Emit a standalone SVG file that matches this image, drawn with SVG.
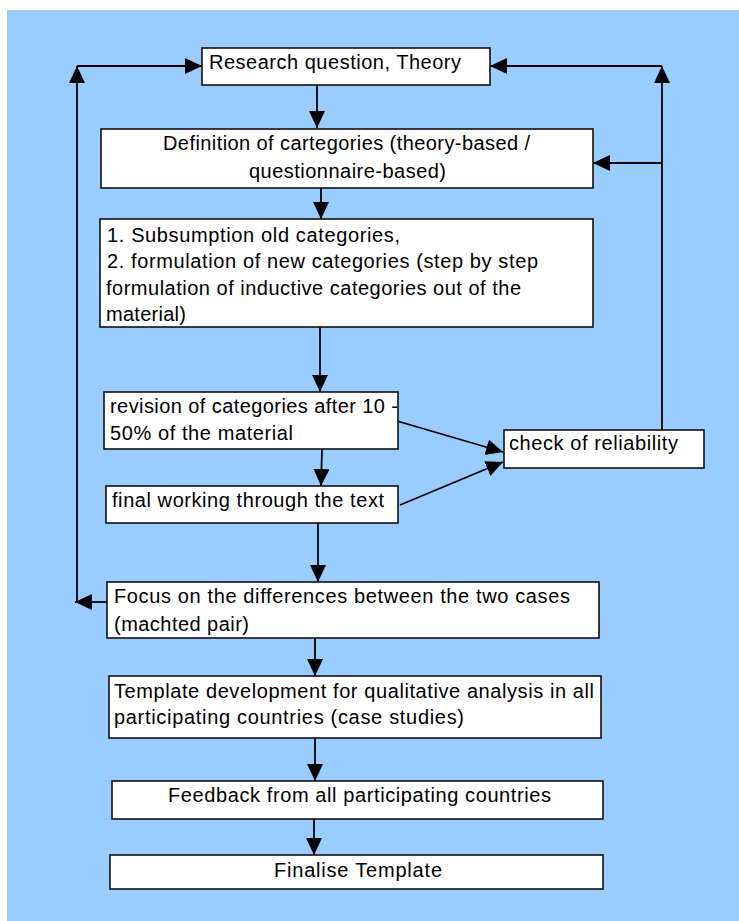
<svg xmlns="http://www.w3.org/2000/svg" width="739" height="921" viewBox="0 0 739 921">
<defs>
<style>
.box{fill:#fff;stroke:#111;stroke-width:1.6}
.t{font-family:"Liberation Sans",Arial,sans-serif;font-size:20px;fill:#000}
.c{fill:none;stroke:#000;stroke-width:1.8}
</style>
<marker id="ah" markerUnits="userSpaceOnUse" markerWidth="18" markerHeight="17" refX="17" refY="8" orient="auto" viewBox="0 0 18 17">
<path d="M0,0 L17,8 L0,16 Z" fill="#000"/>
</marker>
</defs>
<rect x="7" y="10" width="732" height="911" fill="#99CCFF"/>
<g id="connectors">
<line class="c" x1="317" y1="86" x2="317" y2="128" marker-end="url(#ah)"/>
<line class="c" x1="321" y1="188" x2="321" y2="219" marker-end="url(#ah)"/>
<line class="c" x1="320" y1="327" x2="320" y2="392" marker-end="url(#ah)"/>
<line class="c" x1="322" y1="449" x2="321" y2="486" marker-end="url(#ah)"/>
<line class="c" x1="318" y1="523" x2="318" y2="582" marker-end="url(#ah)"/>
<line class="c" x1="315" y1="638" x2="315" y2="676" marker-end="url(#ah)"/>
<line class="c" x1="315" y1="738" x2="315" y2="781" marker-end="url(#ah)"/>
<line class="c" x1="314" y1="819" x2="314" y2="855" marker-end="url(#ah)"/>
<line class="c" x1="397" y1="421" x2="503" y2="452" marker-end="url(#ah)"/>
<line class="c" x1="400" y1="505" x2="503" y2="462" marker-end="url(#ah)"/>
<line class="c" x1="662" y1="430" x2="662" y2="66" marker-end="url(#ah)"/>
<line class="c" x1="662" y1="66" x2="490" y2="66" marker-end="url(#ah)"/>
<line class="c" x1="662" y1="163" x2="593" y2="163" marker-end="url(#ah)"/>
<line class="c" x1="107" y1="602" x2="75" y2="602" marker-end="url(#ah)"/>
<line class="c" x1="77" y1="602" x2="77" y2="66" marker-end="url(#ah)"/>
<line class="c" x1="77" y1="66" x2="202" y2="66" marker-end="url(#ah)"/>
</g>
<g id="n1">
<rect class="box" x="202" y="48" width="288" height="37"/>
<text class="t" x="209" y="69" textLength="252" lengthAdjust="spacing">Research question, Theory</text>
</g>
<g id="n2">
<rect class="box" x="101" y="129" width="492" height="59"/>
<text class="t" x="163" y="150" textLength="367" lengthAdjust="spacing">Definition of cartegories (theory-based /</text>
<text class="t" x="249" y="178" textLength="197" lengthAdjust="spacing">questionnaire-based)</text>
</g>
<g id="n3">
<rect class="box" x="100" y="219" width="493" height="108"/>
<text class="t" x="107" y="242" textLength="293" lengthAdjust="spacing">1. Subsumption old categories,</text>
<text class="t" x="107" y="268" textLength="431" lengthAdjust="spacing">2. formulation of new categories (step by step</text>
<text class="t" x="106" y="295" textLength="415" lengthAdjust="spacing">formulation of inductive categories out of the</text>
<text class="t" x="106" y="321" textLength="80" lengthAdjust="spacing">material)</text>
</g>
<g id="n4">
<rect class="box" x="104" y="392" width="294" height="57"/>
<text class="t" x="110" y="413" textLength="288" lengthAdjust="spacing">revision of categories after 10 -</text>
<text class="t" x="110" y="440" textLength="183" lengthAdjust="spacing">50% of the material</text>
</g>
<g id="n5">
<rect class="box" x="106" y="486" width="292" height="37"/>
<text class="t" x="112" y="507" textLength="272" lengthAdjust="spacing">final working through the text</text>
</g>
<g id="n6">
<rect class="box" x="504" y="430" width="200" height="38"/>
<text class="t" x="509" y="450" textLength="169" lengthAdjust="spacing">check of reliability</text>
</g>
<g id="n7">
<rect class="box" x="107" y="582" width="492" height="56"/>
<text class="t" x="114" y="603" textLength="456" lengthAdjust="spacing">Focus on the differences between the two cases</text>
<text class="t" x="114" y="631" textLength="135" lengthAdjust="spacing">(machted pair)</text>
</g>
<g id="n8">
<rect class="box" x="109" y="676" width="492" height="62"/>
<text class="t" x="114" y="698" textLength="480" lengthAdjust="spacing">Template development for qualitative analysis in all</text>
<text class="t" x="114" y="724" textLength="350" lengthAdjust="spacing">participating countries (case studies)</text>
</g>
<g id="n9">
<rect class="box" x="112" y="781" width="491" height="38"/>
<text class="t" x="168" y="802" textLength="383" lengthAdjust="spacing">Feedback from all participating countries</text>
</g>
<g id="n10">
<rect class="box" x="110" y="855" width="493" height="34"/>
<text class="t" x="274" y="877" textLength="168" lengthAdjust="spacing">Finalise Template</text>
</g>
</svg>
